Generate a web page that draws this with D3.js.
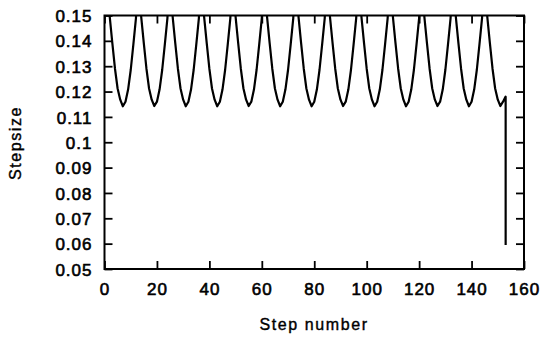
<!DOCTYPE html>
<html>
<head>
<meta charset="utf-8">
<script src="https://cdn.jsdelivr.net/npm/d3@7"></script>
<style>
  html, body { margin: 0; padding: 0; background: #fff; }
  svg { display: block; }
  text { font-family: "Liberation Sans", Arial, sans-serif; fill: #000; }
</style>
</head>
<body>
<svg id="chart" width="544" height="342"></svg>
<script>
// ---- data ----
const xTicks = [0, 20, 40, 60, 80, 100, 120, 140, 160];
const xTickLabels = ["0", "20", "40", "60", "80", "100", "120", "140", "160"];
const yTicks = [0.05, 0.06, 0.07, 0.08, 0.09, 0.10, 0.11, 0.12, 0.13, 0.14, 0.15];
const yTickLabels = ["0.05", "0.06", "0.07", "0.08", "0.09", "0.1", "0.11", "0.12", "0.13", "0.14", "0.15"];
const xTitle = "Step number";
const yTitle = "Stepsize";

// stepsize at step 0, 1, 2, ... 153
const stepsize = [
  0.180,
  0.165, 0.1495, 0.139, 0.129, 0.1212, 0.1168, 0.1142, 0.1160, 0.1208, 0.1285, 0.1385, 0.1490,
  0.170, 0.1495, 0.139, 0.129, 0.1212, 0.1168, 0.1143, 0.1160, 0.1208, 0.1285, 0.1385, 0.1490,
  0.170, 0.1495, 0.139, 0.129, 0.1212, 0.1168, 0.1142, 0.1160, 0.1208, 0.1285, 0.1385, 0.1490,
  0.170, 0.1495, 0.139, 0.129, 0.1212, 0.1168, 0.1142, 0.1160, 0.1208, 0.1285, 0.1385, 0.1490,
  0.170, 0.1495, 0.139, 0.129, 0.1212, 0.1168, 0.1143, 0.1160, 0.1208, 0.1285, 0.1385, 0.1490,
  0.170, 0.1495, 0.139, 0.129, 0.1212, 0.1168, 0.1142, 0.1160, 0.1208, 0.1285, 0.1385, 0.1490,
  0.170, 0.1495, 0.139, 0.129, 0.1212, 0.1168, 0.1142, 0.1160, 0.1208, 0.1285, 0.1385, 0.1490,
  0.170, 0.1495, 0.139, 0.129, 0.1212, 0.1168, 0.1143, 0.1160, 0.1208, 0.1285, 0.1385, 0.1490,
  0.170, 0.1495, 0.139, 0.129, 0.1212, 0.1168, 0.1142, 0.1160, 0.1208, 0.1285, 0.1385, 0.1490,
  0.170, 0.1495, 0.139, 0.129, 0.1212, 0.1168, 0.1142, 0.1160, 0.1208, 0.1285, 0.1385, 0.1490,
  0.170, 0.1495, 0.139, 0.129, 0.1212, 0.1168, 0.1143, 0.1160, 0.1208, 0.1285, 0.1385, 0.1490,
  0.170, 0.1495, 0.139, 0.129, 0.1212, 0.1168, 0.1142, 0.1160, 0.1208, 0.1285, 0.1385, 0.1490,
  0.170, 0.1495, 0.139, 0.129, 0.1212, 0.1168, 0.1143, 0.1160, 0.1180
];
// final drop of the step size at the last step
const finalStep = 153;
const finalValue = 0.0595;

// ---- layout ----
const svg = d3.select("#chart");
const plotLeft = 104.5, plotRight = 524, plotTop = 15.5, plotBottom = 269;

const x = d3.scaleLinear().domain([0, 160]).range([plotLeft, plotRight]);
const y = d3.scaleLinear().domain([0.05, 0.15]).range([plotBottom, plotTop]);

const points = stepsize.map((v, i) => [i, v]).concat([[finalStep, finalValue]]);

svg.append("defs").append("clipPath").attr("id", "plotclip")
  .append("rect")
  .attr("x", plotLeft).attr("y", plotTop)
  .attr("width", plotRight - plotLeft).attr("height", plotBottom - plotTop);

// curve
svg.append("path")
  .datum(points)
  .attr("clip-path", "url(#plotclip)")
  .attr("fill", "none")
  .attr("stroke", "#000")
  .attr("stroke-width", 2.2)
  .attr("stroke-linejoin", "round")
  .attr("d", d3.line().x(d => x(d[0])).y(d => y(d[1])));

// axes
const fmtX = (d, i) => xTickLabels[i];
const fmtY = (d, i) => yTickLabels[i];

const gB = svg.append("g").attr("transform", `translate(0,${plotBottom})`)
  .call(d3.axisBottom(x).tickValues(xTicks).tickFormat(fmtX).tickSize(-8).tickPadding(14));
const gT = svg.append("g").attr("transform", `translate(0,${plotTop})`)
  .call(d3.axisTop(x).tickValues(xTicks).tickFormat("").tickSize(-8));
const gL = svg.append("g").attr("transform", `translate(${plotLeft},0)`)
  .call(d3.axisLeft(y).tickValues(yTicks).tickFormat(fmtY).tickSize(-8).tickPadding(12));
const gR = svg.append("g").attr("transform", `translate(${plotRight},0)`)
  .call(d3.axisRight(y).tickValues(yTicks).tickFormat("").tickSize(-8));

[gB, gT, gL, gR].forEach(g => {
  g.select(".domain").remove();
  g.selectAll(".tick line").attr("stroke", "#000").attr("stroke-width", 1.8);
  g.selectAll("text")
    .style("font-family", '"Liberation Sans", Arial, sans-serif')
    .style("font-size", "17px")
    .style("letter-spacing", "1px")
    .attr("fill", "#000")
    .attr("stroke", "#000")
    .attr("stroke-width", 0.6);
});
gL.selectAll("text").attr("dy", "0.36em");

// frame
svg.append("rect")
  .attr("x", plotLeft).attr("y", plotTop)
  .attr("width", plotRight - plotLeft).attr("height", plotBottom - plotTop)
  .attr("fill", "none").attr("stroke", "#000").attr("stroke-width", 2);

// titles
svg.append("text")
  .attr("x", 314).attr("y", 330)
  .attr("text-anchor", "middle")
  .attr("stroke", "#000").attr("stroke-width", 0.4)
  .style("font-size", "16px").style("letter-spacing", "1.6px")
  .text(xTitle);

svg.append("text")
  .attr("transform", "translate(21,143) rotate(-90)")
  .attr("text-anchor", "middle")
  .attr("stroke", "#000").attr("stroke-width", 0.4)
  .style("font-size", "16px").style("letter-spacing", "1.6px")
  .text(yTitle);
</script>
</body>
</html>
